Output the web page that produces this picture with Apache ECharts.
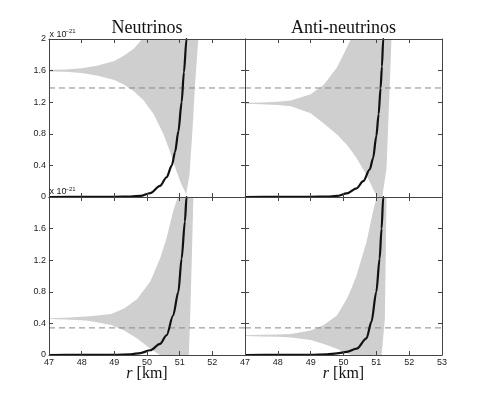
<!DOCTYPE html>
<html>
<head>
<meta charset="utf-8">
<script src="https://cdn.jsdelivr.net/npm/echarts@6/dist/echarts.min.js"></script>
<style>
html, body { margin: 0; padding: 0; background: #fff; }
#chart { width: 491px; height: 395px; }
</style>
</head>
<body>
<div id="chart"></div>
<script>
var xTicks = [47, 48, 49, 50, 51, 52, 53];
var yTicks = [0, 0.4, 0.8, 1.2, 1.6, 2];
var panelTitles = ['Neutrinos', 'Anti-neutrinos'];
var dashLevels = [1.38, 1.38, 0.343, 0.343];

// grey envelope, top-left (neutrinos, upper row)
var bandR_TL = [47, 47.5, 48, 48.5, 49, 49.3, 49.6, 49.9, 50.2, 50.5, 50.7, 50.9, 51.05, 51.2, 51.3, 51.4, 51.47, 51.57, 51.6];
var bandLow_TL = [1.59, 1.585, 1.57, 1.535, 1.48, 1.42, 1.34, 1.22, 1.05, 0.8, 0.58, 0.33, 0.16, 0.04, 0.28, 0.9, 1.42, 2.0, 2.3];
var bandHigh_TL = [1.61, 1.615, 1.63, 1.665, 1.72, 1.79, 1.88, 2.02, 2.3, 2.3, 2.3, 2.3, 2.3, 2.3, 2.3, 2.3, 2.3, 2.3, 2.3];
// top-right (anti-neutrinos, upper row)
var bandR_TR = [47, 47.5, 48, 48.4, 49, 49.4, 49.8, 50.1, 50.25, 50.4, 50.7, 50.95, 51.05, 51.18, 51.31, 51.41, 51.46, 51.5];
var bandLow_TR = [1.18, 1.175, 1.165, 1.15, 1.06, 0.93, 0.79, 0.66, 0.58, 0.49, 0.28, 0.06, 0, 0, 0.36, 1.42, 2.0, 2.3];
var bandHigh_TR = [1.19, 1.195, 1.205, 1.22, 1.3, 1.42, 1.64, 1.89, 2.02, 2.3, 2.3, 2.3, 2.3, 2.3, 2.3, 2.3, 2.3, 2.3];
// bottom-left
var bandR_BL = [47, 47.5, 48, 48.25, 48.9, 49.3, 49.7, 50.1, 50.4, 50.6, 50.8, 50.96, 51.1, 51.28, 51.32, 51.37, 51.42, 51.45];
var bandLow_BL = [0.455, 0.45, 0.44, 0.43, 0.38, 0.31, 0.21, 0.08, 0, 0, 0, 0, 0, 0, 0.46, 1.2, 2.0, 2.3];
var bandHigh_BL = [0.465, 0.47, 0.485, 0.49, 0.52, 0.59, 0.71, 0.93, 1.22, 1.48, 1.82, 2.02, 2.3, 2.3, 2.3, 2.3, 2.3, 2.3];
// bottom-right
var bandR_BR = [47, 47.5, 48, 48.4, 49, 49.4, 49.8, 50.1, 50.25, 50.4, 50.7, 50.9, 51.02, 51.1, 51.16, 51.26, 51.31, 51.34];
var bandLow_BR = [0.24, 0.235, 0.23, 0.22, 0.19, 0.14, 0.08, 0.02, 0, 0, 0, 0, 0, 0, 0, 0.46, 2.0, 2.3];
var bandHigh_BR = [0.25, 0.255, 0.26, 0.265, 0.31, 0.38, 0.5, 0.71, 0.85, 1.01, 1.43, 1.82, 2.02, 2.3, 2.3, 2.3, 2.3, 2.3];

// black curves
var curveR_TL = [47, 48, 49, 49.5, 49.8, 50.1, 50.4, 50.6, 50.76, 50.86, 50.96, 51.06, 51.13, 51.21, 51.25];
var curveV_TL = [0, 0.001, 0.003, 0.006, 0.014, 0.05, 0.14, 0.25, 0.4, 0.57, 0.83, 1.2, 1.58, 2.0, 2.3];
var curveR_TR = [47, 48, 49, 49.5, 49.8, 50.1, 50.4, 50.6, 50.8, 50.9, 51.0, 51.07, 51.13, 51.17, 51.21, 51.25];
var curveV_TR = [0, 0.001, 0.003, 0.006, 0.013, 0.045, 0.11, 0.2, 0.35, 0.49, 0.77, 1.05, 1.38, 1.65, 2.0, 2.3];
var curveR_BL = [47, 48, 49, 49.5, 49.8, 50.1, 50.4, 50.6, 50.8, 50.96, 51.06, 51.16, 51.21, 51.25];
var curveV_BL = [0, 0.001, 0.003, 0.008, 0.025, 0.06, 0.14, 0.25, 0.5, 0.8, 1.22, 1.69, 2.0, 2.3];
var curveR_BR = [47, 48, 49, 49.5, 49.8, 50.1, 50.4, 50.7, 50.85, 51.0, 51.1, 51.16, 51.21, 51.25];
var curveV_BR = [0, 0.001, 0.003, 0.008, 0.02, 0.04, 0.08, 0.21, 0.42, 0.8, 1.22, 1.6, 2.0, 2.3];

var panels = [
  { r: bandR_TL, low: bandLow_TL, high: bandHigh_TL, cr: curveR_TL, cv: curveV_TL },
  { r: bandR_TR, low: bandLow_TR, high: bandHigh_TR, cr: curveR_TR, cv: curveV_TR },
  { r: bandR_BL, low: bandLow_BL, high: bandHigh_BL, cr: curveR_BL, cv: curveV_BL },
  { r: bandR_BR, low: bandLow_BR, high: bandHigh_BR, cr: curveR_BR, cv: curveV_BR }
];

var gridBoxes = [
  { left: 49, top: 39, width: 196, height: 158 },
  { left: 245, top: 39, width: 197, height: 158 },
  { left: 49, top: 197, width: 196, height: 158 },
  { left: 245, top: 197, width: 197, height: 158 }
];

var axisColor = '#444';
var labelFont = { fontSize: 9, color: '#222', fontFamily: 'Liberation Sans, Arial, sans-serif' };

function fmt(v) {
  return String(Math.round(v * 10) / 10);
}

// polygon of the envelope: upper edge forward, lower edge back
function bandRenderer(p) {
  return function (params, api) {
    var pts = [];
    for (var k = 0; k < p.r.length; k++) pts.push(api.coord([p.r[k], p.high[k]]));
    for (var j = p.r.length - 1; j >= 0; j--) pts.push(api.coord([p.r[j], p.low[j]]));
    return {
      type: 'polygon',
      shape: { points: pts },
      style: { fill: '#cfcfcf', stroke: null }
    };
  };
}

var grids = [], xAxes = [], yAxes = [], series = [];

panels.forEach(function (p, i) {
  var isLeft = i % 2 === 0;
  var isBottom = i >= 2;
  grids.push(Object.assign({ containLabel: false }, gridBoxes[i]));

  ['bottom', 'top'].forEach(function (pos) {
    xAxes.push({
      type: 'value', gridIndex: i, position: pos,
      min: xTicks[0], max: xTicks[xTicks.length - 1], interval: 1,
      axisLine: { show: true, onZero: false, lineStyle: { color: axisColor, width: 1 } },
      axisTick: { show: true, inside: true, length: 4, lineStyle: { color: axisColor } },
      axisLabel: Object.assign({
        show: pos === 'bottom' && isBottom, margin: 3,
        formatter: function (v) { return (isLeft && v === 53) ? '' : String(v); }
      }, labelFont),
      splitLine: { show: false },
      z: 5
    });
  });
  ['left', 'right'].forEach(function (pos) {
    yAxes.push({
      type: 'value', gridIndex: i, position: pos,
      min: yTicks[0], max: yTicks[yTicks.length - 1], interval: 0.4,
      axisLine: { show: true, onZero: false, lineStyle: { color: axisColor, width: 1 } },
      axisTick: { show: true, inside: true, length: 4, lineStyle: { color: axisColor } },
      axisLabel: Object.assign({
        show: pos === 'left' && isLeft, margin: 3,
        formatter: function (v) { return (isBottom && v === 2) ? '' : fmt(v); }
      }, labelFont),
      splitLine: { show: false },
      z: 5
    });
  });

  var xi = 2 * i, yi = 2 * i;
  series.push({
    type: 'custom', xAxisIndex: xi, yAxisIndex: yi, clip: true,
    data: [[p.r[0], p.low[0]]],
    renderItem: bandRenderer(p),
    silent: true, z: 2
  });
  series.push({
    type: 'line', xAxisIndex: xi, yAxisIndex: yi,
    data: [[xTicks[0], dashLevels[i]], [xTicks[xTicks.length - 1], dashLevels[i]]],
    symbol: 'none', lineStyle: { color: '#888', width: 1, type: [6, 4] }, silent: true, z: 3
  });
  series.push({
    type: 'line', xAxisIndex: xi, yAxisIndex: yi,
    data: p.cr.map(function (r, k) { return [r, p.cv[k]]; }),
    symbol: 'none', smooth: 0.3, smoothMonotone: 'x',
    lineStyle: { color: '#111', width: 2.2 }, silent: true, z: 4
  });
});

var serif = 'Liberation Serif, Times New Roman, serif';
var sans = 'Liberation Sans, Arial, sans-serif';
var graphics = [];
[147, 343.5].forEach(function (cx, k) {
  graphics.push({
    type: 'text', x: cx, y: 28.5,
    style: { text: panelTitles[k], font: '18px ' + serif, fill: '#111', textAlign: 'center', textVerticalAlign: 'middle' }
  });
  graphics.push({
    type: 'text', x: cx, y: 374,
    style: {
      text: '{i|r} [km]', textAlign: 'center', textVerticalAlign: 'middle',
      rich: { i: { fontFamily: serif, fontStyle: 'italic', fontSize: 16, fill: '#111' } },
      font: '16px ' + serif, fill: '#111'
    }
  });
});
[34.2, 192].forEach(function (y) {
  graphics.push({
    type: 'text', x: 49.5, y: y,
    style: { text: 'x 10', font: '9px ' + sans, fill: '#222', textAlign: 'left', textVerticalAlign: 'middle' }
  });
  graphics.push({
    type: 'text', x: 65.5, y: y - 3,
    style: { text: '\u221221', font: '6px ' + sans, fill: '#222', textAlign: 'left', textVerticalAlign: 'middle' }
  });
});

var myChart = echarts.init(document.getElementById('chart'), null, { renderer: 'canvas' });
myChart.setOption({
  animation: false,
  backgroundColor: '#fff',
  grid: grids,
  xAxis: xAxes,
  yAxis: yAxes,
  series: series,
  graphic: graphics
});
</script>
</body>
</html>
